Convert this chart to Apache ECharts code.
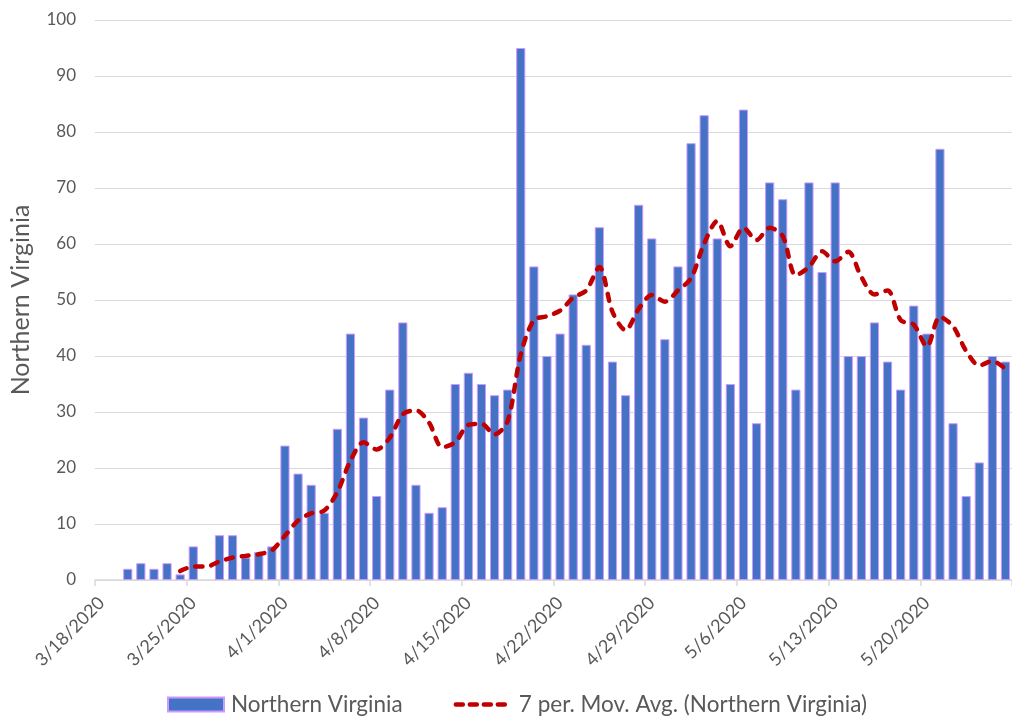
<!DOCTYPE html>
<html>
<head>
<meta charset="utf-8">
<script src="https://cdn.jsdelivr.net/npm/echarts@6/dist/echarts.min.js"></script>
<style>
  html, body { margin: 0; padding: 0; background: #ffffff; }
  #chart { width: 1012px; height: 719px; }
</style>
</head>
<body>
<div id="chart"></div>
<script>
const categories = [
  '3/18/2020','3/19/2020','3/20/2020','3/21/2020','3/22/2020','3/23/2020','3/24/2020',
  '3/25/2020','3/26/2020','3/27/2020','3/28/2020','3/29/2020','3/30/2020','3/31/2020',
  '4/1/2020','4/2/2020','4/3/2020','4/4/2020','4/5/2020','4/6/2020','4/7/2020',
  '4/8/2020','4/9/2020','4/10/2020','4/11/2020','4/12/2020','4/13/2020','4/14/2020',
  '4/15/2020','4/16/2020','4/17/2020','4/18/2020','4/19/2020','4/20/2020','4/21/2020',
  '4/22/2020','4/23/2020','4/24/2020','4/25/2020','4/26/2020','4/27/2020','4/28/2020',
  '4/29/2020','4/30/2020','5/1/2020','5/2/2020','5/3/2020','5/4/2020','5/5/2020',
  '5/6/2020','5/7/2020','5/8/2020','5/9/2020','5/10/2020','5/11/2020','5/12/2020',
  '5/13/2020','5/14/2020','5/15/2020','5/16/2020','5/17/2020','5/18/2020','5/19/2020',
  '5/20/2020','5/21/2020','5/22/2020','5/23/2020','5/24/2020','5/25/2020','5/26/2020'
];

const dailyCases = [
  0, 0, 2, 3, 2, 3, 1,
  6, 0, 8, 8, 4, 5, 6,
  24, 19, 17, 12, 27, 44, 29,
  15, 34, 46, 17, 12, 13, 35,
  37, 35, 33, 34, 95, 56, 40,
  44, 51, 42, 63, 39, 33, 67,
  61, 43, 56, 78, 83, 61, 35,
  84, 28, 71, 68, 34, 71, 55,
  71, 40, 40, 46, 39, 34, 49,
  44, 77, 28, 15, 21, 40, 39
];

const movingAvg = [
  null, null, null, null, null, null, 1.6,
  2.4, 2.4, 3.3, 4.0, 4.3, 4.6, 5.3,
  7.9, 10.6, 11.9, 12.4, 15.7, 21.3, 24.6,
  23.3, 25.4, 29.6, 30.3, 28.1, 23.7, 24.6,
  27.7, 27.9, 26.0, 28.4, 40.3, 46.4, 47.1,
  48.1, 50.4, 51.7, 55.9, 47.9, 44.6, 48.4,
  50.9, 49.7, 51.7, 53.9, 60.1, 64.1, 59.6,
  62.9, 60.7, 62.9, 61.4, 54.4, 55.9, 58.7,
  56.9, 58.6, 54.1, 51.0, 51.7, 46.4, 45.6,
  41.7, 47.0, 45.3, 40.9, 38.3, 39.1, 37.7
];

const yTicks = [0, 10, 20, 30, 40, 50, 60, 70, 80, 90, 100];

const barName = 'Northern Virginia';
const lineName = '7 per. Mov. Avg. (Northern Virginia)';
const yAxisTitle = 'Northern Virginia';

const FONT = 'Lato, "Open Sans", sans-serif';
const TXT = '#595959';

const chart = echarts.init(document.getElementById('chart'), null, { renderer: 'canvas' });

const everyWeek = function (idx) { return idx % 7 === 0; };

chart.setOption({
  animation: false,
  backgroundColor: '#ffffff',
  textStyle: { fontFamily: FONT },
  grid: { left: 90, top: 20, width: 925, height: 560, containLabel: false },
  legend: {
    left: 167,
    top: 693,
    padding: 0,
    itemWidth: 56,
    itemHeight: 14,
    itemGap: 51,
    textStyle: { color: TXT, fontSize: 22.5, fontFamily: FONT, padding: [0, 0, 0, 2] },
    data: [
      { name: barName, icon: 'rect' },
      { name: lineName, itemStyle: { opacity: 0 }, lineStyle: { width: 4.5, color: '#C00000', type: [7, 7], cap: 'round' } }
    ]
  },
  xAxis: {
    type: 'category',
    data: categories,
    boundaryGap: true,
    axisLine: { show: true, lineStyle: { color: '#D9D9D9', width: 1.5 } },
    axisTick: { show: true, interval: everyWeek, length: 6, lineStyle: { color: '#D9D9D9', width: 1.5 } },
    axisLabel: {
      interval: everyWeek,
      rotate: 45,
      margin: 20,
      color: TXT,
      fontSize: 18,
      fontFamily: FONT
    },
    splitLine: { show: false }
  },
  yAxis: {
    type: 'value',
    min: yTicks[0],
    max: yTicks[yTicks.length - 1],
    interval: 10,
    name: yAxisTitle,
    nameLocation: 'middle',
    nameRotate: 90,
    nameGap: 62,
    nameTextStyle: { color: TXT, fontSize: 25, fontFamily: FONT },
    axisLine: { show: false },
    axisTick: { show: false },
    axisLabel: { color: TXT, fontSize: 17, fontFamily: FONT, margin: 19 },
    splitLine: { show: true, lineStyle: { color: '#D9D9D9', width: 1 } }
  },
  series: [
    {
      name: barName,
      type: 'bar',
      data: dailyCases.map(function (v) { return v === 0 ? { value: 0, itemStyle: { borderWidth: 0, opacity: 0 } } : v; }),
      barCategoryGap: '30%',
      itemStyle: { color: '#4472C4', borderColor: '#CC99FF', borderWidth: 1 },
      z: 2
    },
    {
      name: lineName,
      type: 'line',
      data: movingAvg,
      smooth: 0.3,
      symbol: 'none',
      showSymbol: false,
      connectNulls: false,
      lineStyle: { color: '#C00000', width: 4.5, type: [7, 9], cap: 'round', join: 'round' },
      itemStyle: { color: '#C00000' },
      z: 3
    }
  ]
});
</script>
</body>
</html>
